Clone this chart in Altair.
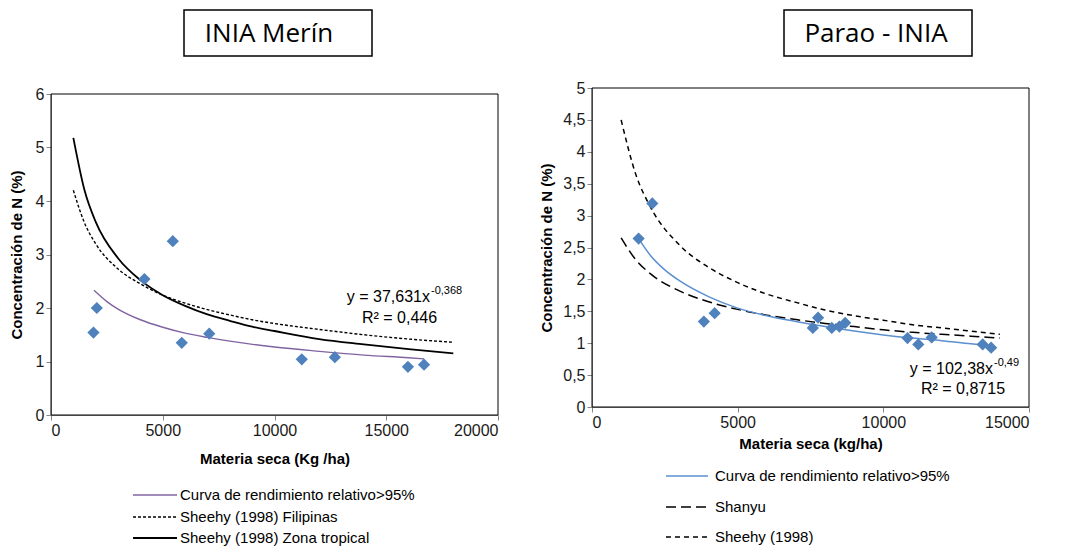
import altair as alt
import pandas as pd

# ---------------- data ----------------
# INIA Merín
merin_ms = [1900, 2050, 4180, 5450, 5850, 7080, 11220, 12700, 15970, 16690]
merin_n = [1.54, 2.00, 2.54, 3.25, 1.35, 1.52, 1.04, 1.08, 0.90, 0.94]

merin_fit_ms = [1924, 2500, 3000, 4000, 5000, 6000, 7000, 8000, 10000, 12000, 14000, 16000, 16689]
merin_fit_n = [2.33, 2.12, 1.98, 1.78, 1.64, 1.53, 1.45, 1.38, 1.27, 1.19, 1.12, 1.07, 1.05]

sheehy_ms = [1000, 1500, 2000, 3000, 4000, 5000, 6000, 7000, 8000, 9000, 10000, 12000, 14000, 16000, 18000]
sheehy_fil_n = [4.20, 3.59, 3.20, 2.73, 2.45, 2.24, 2.09, 1.97, 1.87, 1.78, 1.71, 1.60, 1.50, 1.42, 1.36]
sheehy_trop_n = [5.18, 4.20, 3.61, 2.93, 2.52, 2.24, 2.04, 1.88, 1.76, 1.65, 1.57, 1.42, 1.32, 1.23, 1.15]

# Parao - INIA
parao_ms = [1600, 2070, 3840, 4210, 7580, 7760, 8230, 8490, 8690, 10830, 11200, 11660, 13410, 13700]
parao_n = [2.64, 3.19, 1.34, 1.47, 1.24, 1.40, 1.24, 1.26, 1.32, 1.08, 0.98, 1.09, 0.98, 0.93]

parao_fit_ms = [1600, 2000, 2500, 3000, 4000, 5000, 6000, 7000, 8000, 9000, 10000, 11000, 12000, 13000, 13700]
parao_fit_n = [2.64, 2.38, 2.15, 1.98, 1.73, 1.55, 1.43, 1.34, 1.26, 1.19, 1.13, 1.08, 1.04, 0.99, 0.96]

ref_ms = [1000, 1500, 2000, 3000, 4000, 5000, 6000, 7000, 8000, 9000, 10000, 11000, 12000, 13000, 14000]
shanyu_n = [2.65, 2.31, 2.09, 1.82, 1.65, 1.53, 1.44, 1.37, 1.31, 1.26, 1.21, 1.17, 1.14, 1.11, 1.08]
sheehy_n = [4.50, 3.65, 3.14, 2.54, 2.19, 1.95, 1.77, 1.64, 1.52, 1.43, 1.36, 1.29, 1.24, 1.19, 1.14]

left_x_ticks = [0, 5000, 10000, 15000, 20000]
left_y_ticks = [0, 1, 2, 3, 4, 5, 6]
right_x_ticks = [0, 5000, 10000, 15000]
right_y_ticks = [0, 0.5, 1, 1.5, 2, 2.5, 3, 3.5, 4, 4.5, 5]

# ---------------- helpers ----------------
FONT = "Liberation Sans"
BLUE_PT = "#4F81BD"
BLUE_LN = "#5B8FCF"
PURPLE = "#8064A2"


def df(xs, ys):
    return pd.DataFrame({"ms": xs, "n": ys})


def one():
    return alt.Data(values=[{"k": 1}])


def txt(text, x, y, size=15, weight="normal", align="left", font=FONT):
    return alt.Chart(alt.Data(values=[{"t": text}])).mark_text(
        align=align, baseline="middle", fontSize=size, fontWeight=weight,
        font=font, color="black"
    ).encode(x=alt.value(x), y=alt.value(y), text="t:N")


def leg_line(x1, x2, y, color, width, dash=None):
    kw = dict(color=color, strokeWidth=width)
    if dash is not None:
        kw["strokeDash"] = dash
    return alt.Chart(one()).mark_rule(**kw).encode(
        x=alt.value(x1), x2=alt.value(x2), y=alt.value(y))


def rect(x1, x2, y1, y2, fill, width):
    return alt.Chart(one()).mark_rect(fill=fill, stroke="black", strokeWidth=width).encode(
        x=alt.value(x1), x2=alt.value(x2), y=alt.value(y1), y2=alt.value(y2))


# ---------------- left panel: INIA Merín ----------------
LW, LH = 447, 327
xl = alt.X("ms:Q", scale=alt.Scale(domain=[0, 20000], nice=False),
           axis=alt.Axis(values=left_x_ticks, format="d", title="Materia seca (Kg /ha)",
                         titlePadding=13))
yl = alt.Y("n:Q", scale=alt.Scale(domain=[0, 6], range=[LH, 6], nice=False),
           axis=alt.Axis(values=left_y_ticks, format="d", title="Concentración de N (%)",
                         titlePadding=11))

l_fil = alt.Chart(df(sheehy_ms, sheehy_fil_n)).mark_line(
    color="black", strokeWidth=1.4, strokeDash=[3, 2], interpolate="monotone").encode(x=xl, y=yl)
l_trop = alt.Chart(df(sheehy_ms, sheehy_trop_n)).mark_line(
    color="black", strokeWidth=1.8, interpolate="monotone").encode(x=xl, y=yl)
l_fit = alt.Chart(df(merin_fit_ms, merin_fit_n)).mark_line(
    color=PURPLE, strokeWidth=1.4, interpolate="monotone").encode(x=xl, y=yl)
l_pts = alt.Chart(df(merin_ms, merin_n)).mark_point(
    shape="diamond", filled=True, size=150, color=BLUE_PT, opacity=1).encode(x=xl, y=yl)

left = alt.layer(
    rect(0, LW, 6, LH, "transparent", 1),
    l_fil, l_trop, l_fit, l_pts,
    rect(133, 321, -78, -32, "white", 1.5),
    txt("INIA Merín", 218, -54, size=26, font="Open Sans", align="center"),
    txt("y = 37,631x", 379, 209, size=16, align="right"),
    txt("-0,368", 380, 203, size=11),
    txt("R² = 0,446", 311, 230, size=16),
    leg_line(82, 126, 407, PURPLE, 1.5),
    txt("Curva de rendimiento relativo>95%", 129, 407, size=15),
    leg_line(82, 126, 429, "black", 1.4, [3, 2]),
    txt("Sheehy (1998) Filipinas", 129, 429, size=15),
    leg_line(82, 126, 450, "black", 1.8),
    txt("Sheehy (1998) Zona tropical", 129, 450, size=15),
).properties(width=LW, height=LH)

# ---------------- right panel: Parao - INIA ----------------
RW, RH = 437, 319
xr = alt.X("ms:Q", scale=alt.Scale(domain=[0, 15000], nice=False),
           axis=alt.Axis(values=right_x_ticks, format="d", title="Materia seca (kg/ha)",
                         titlePadding=6))
yr = alt.Y("n:Q", scale=alt.Scale(domain=[0, 5], nice=False),
           axis=alt.Axis(values=right_y_ticks, title="Concentración de N (%)",
                         labelExpr="replace(toString(datum.value), '.', ',')",
                         titlePadding=8))

r_sheehy = alt.Chart(df(ref_ms, sheehy_n)).mark_line(
    color="black", strokeWidth=1.5, strokeDash=[5, 4], interpolate="monotone").encode(x=xr, y=yr)
r_shanyu = alt.Chart(df(ref_ms, shanyu_n)).mark_line(
    color="black", strokeWidth=1.5, strokeDash=[10, 5], interpolate="monotone").encode(x=xr, y=yr)
r_fit = alt.Chart(df(parao_fit_ms, parao_fit_n)).mark_line(
    color=BLUE_LN, strokeWidth=1.5, interpolate="monotone").encode(x=xr, y=yr)
r_pts = alt.Chart(df(parao_ms, parao_n)).mark_point(
    shape="diamond", filled=True, size=150, color=BLUE_PT, opacity=1).encode(x=xr, y=yr)

right = alt.layer(
    rect(0, RW, 0, RH, "transparent", 1),
    r_sheehy, r_shanyu, r_fit, r_pts,
    rect(192, 380, -78, -32, "white", 1.5),
    txt("Parao - INIA", 284, -54, size=26, font="Open Sans", align="center"),
    txt("y = 102,38x", 401, 281, size=16, align="right"),
    txt("-0,49", 402, 275, size=11),
    txt("R² = 0,8715", 329, 301, size=16),
    leg_line(74, 116, 388, BLUE_LN, 1.5),
    txt("Curva de rendimiento relativo>95%", 123, 388, size=15),
    leg_line(74, 116, 419, "black", 1.5, [10, 5]),
    txt("Shanyu", 123, 419, size=15),
    leg_line(74, 116, 449, "black", 1.5, [5, 4]),
    txt("Sheehy (1998)", 123, 449, size=15),
).properties(width=RW, height=RH)

chart = alt.hconcat(left, right, spacing=94, bounds="flush").properties(
    padding={"left": 0, "top": 0, "right": 2, "bottom": 0}
).configure_view(stroke="transparent").configure_axis(
    domainColor="#868686", tickColor="#868686", tickSize=5, grid=False,
    labelFont=FONT, labelFontSize=16, labelColor="#1a1a1a",
    titleFont=FONT, titleFontSize=15, titleFontWeight="bold", titleColor="black",
    zindex=1
)

chart.save("out.html", embed_options={"renderer": "svg", "actions": False})
